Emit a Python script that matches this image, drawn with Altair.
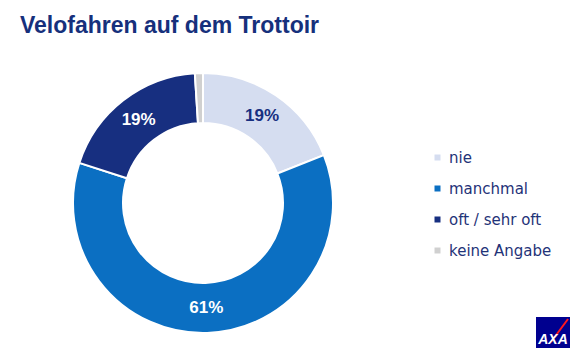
import altair as alt
import pandas as pd

categories = ["nie", "manchmal", "oft / sehr oft", "keine Angabe"]
values = [19, 61, 19, 1]
labels = ["19%", "61%", "19%", ""]
colors = ["#D5DDF0", "#0B6FC2", "#172F80", "#D0D0D0"]
title_text = "Velofahren auf dem Trottoir"

df = pd.DataFrame({
    "cat": categories,
    "value": values,
    "label": labels,
    "order": list(range(len(categories))),
})

CX, CY = 195, 195

base = alt.Chart(df).encode(
    theta=alt.Theta("value:Q", stack=True),
    order=alt.Order("order:Q", sort="ascending"),
)

arcs = base.mark_arc(outerRadius=130, innerRadius=80, stroke="white", strokeWidth=2).encode(
    x=alt.value(CX),
    y=alt.value(CY),
    color=alt.Color(
        "cat:N",
        scale=alt.Scale(domain=categories, range=colors),
        sort=categories,
        legend=alt.Legend(
            title=None,
            orient="none",
            legendX=422,
            legendY=142,
            symbolType="square",
            symbolSize=36,
            symbolStrokeWidth=0,
            labelFont="DejaVu Sans",
            labelFontSize=15,
            labelColor="#1F3378",
            labelOffset=4,
            rowPadding=15,
            padding=0,
        ),
    ),
)

text = base.mark_text(radius=105, font="Liberation Sans", fontSize=17, fontWeight="bold").encode(
    x=alt.value(CX),
    y=alt.value(CY),
    text="label:N",
    color=alt.condition(alt.datum.cat == "nie", alt.value("#172F80"), alt.value("white")),
)

title = alt.Chart(alt.Data(values=[{"t": title_text}])).mark_text(
    align="left", baseline="alphabetic", font="Liberation Sans", fontSize=23,
    fontWeight="bold", color="#16307C"
).encode(x=alt.value(12), y=alt.value(25), text="t:N")

logo_box = alt.Chart(alt.Data(values=[{}])).mark_rect(color="#00008F").encode(
    x=alt.value(528), x2=alt.value(562), y=alt.value(309), y2=alt.value(340)
)
logo_line = alt.Chart(alt.Data(values=[{}])).mark_rule(color="#FF1721", strokeWidth=2).encode(
    x=alt.value(543), x2=alt.value(560), y=alt.value(334), y2=alt.value(311)
)
logo_text = alt.Chart(alt.Data(values=[{"t": "AXA"}])).mark_text(
    font="Liberation Sans", fontSize=14, fontWeight="bold", fontStyle="italic",
    color="white", align="center", baseline="alphabetic"
).encode(x=alt.value(545), y=alt.value(336), text="t:N")

chart = alt.layer(arcs, text, title, logo_box, logo_line, logo_text).properties(
    width=566, height=348, padding=0, autosize="none", background="white"
).configure_view(strokeWidth=0, stroke=None)

chart.save("out.html", embed_options={"renderer": "svg", "actions": False})
